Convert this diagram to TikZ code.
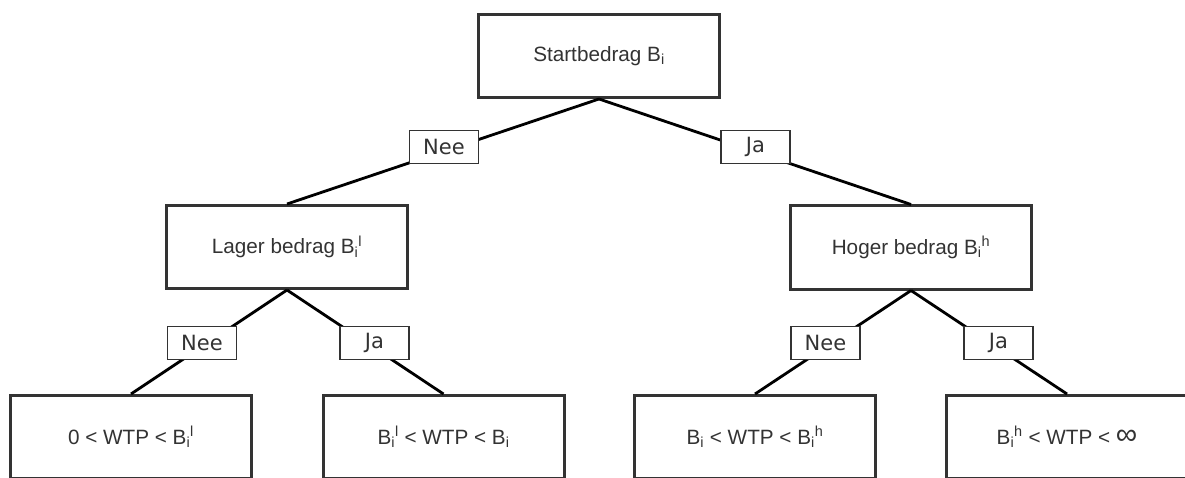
\documentclass[tikz,border=0pt]{standalone}
\usepackage{fontspec}
\setmainfont{Liberation Sans}
\newfontfamily\answerfont{DejaVu Sans}

\definecolor{frame}{HTML}{333333}
\definecolor{ink}{HTML}{333333}

% amounts: B_i, B_i^l, B_i^h
\newcommand\bstart{B\textsubscript{i}}
\newcommand\blow{B\textsubscript{i}\textsuperscript{l}}
\newcommand\bhigh{B\textsubscript{i}\textsuperscript{h}}
\newcommand\infsign{{\fontsize{30}{30}\selectfont ∞}}

\tikzset{
  stepbox/.style={draw=frame, line width=3pt, fill=white,
    minimum width=241pt, minimum height=83pt, inner sep=0pt,
    text=ink, font=\fontsize{20.7}{24}\selectfont},
  answer/.style={draw=frame, line width=1.2pt, fill=white,
    minimum width=69pt, minimum height=33pt, inner sep=0pt,
    text=ink, font=\answerfont\fontsize{21}{25}\selectfont},
  link/.style={line width=2.8pt, draw=black}
}

\begin{document}
\begin{tikzpicture}[x=1pt, y=-1pt]
  \useasboundingbox (0,0) rectangle (1185,478);
  \clip (0,0) rectangle (1185,478);

  % question boxes
  \node[stepbox] (start) at (599,56) {Startbedrag \bstart};
  \node[stepbox] (lower) at (287,247) {Lager bedrag \blow};
  \node[stepbox] (higher) at (911,247.5) {Hoger bedrag \bhigh};

  % outcome intervals
  \node[stepbox] (r1) at (131,437) {0 < WTP < \blow};
  \node[stepbox] (r2) at (443.5,437) {\blow{} < WTP < \bstart};
  \node[stepbox] (r3) at (755,437) {\bstart{} < WTP < \bhigh};
  \node[stepbox] (r4) at (1067,437) {\bhigh{} < WTP < \infsign};

  % branches
  \draw[link] (start.south) -- (lower.north);
  \draw[link] (start.south) -- (higher.north);
  \draw[link] (lower.south) -- (r1.north);
  \draw[link] (lower.south) -- (r2.north);
  \draw[link] (higher.south) -- (r3.north);
  \draw[link] (higher.south) -- (r4.north);

  % answers on the branches
  \node[answer] (a1) at (444,147) {Nee};
  \node[answer] (a2) at (755.5,147) {Ja};
  \node[answer] (a3) at (202,343) {Nee};
  \node[answer] (a4) at (374.5,343) {Ja};
  \node[answer] (a5) at (825.5,343) {Nee};
  \node[answer] (a6) at (998.5,343) {Ja};
\end{tikzpicture}
\end{document}
